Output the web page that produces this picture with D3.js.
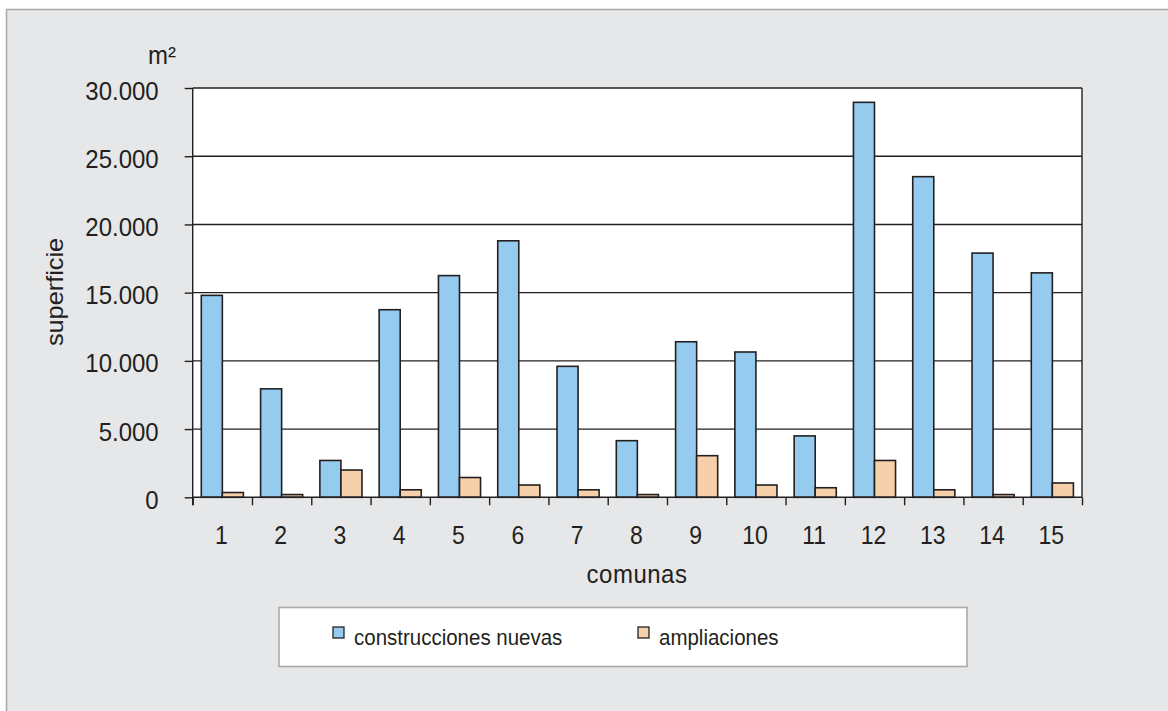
<!DOCTYPE html>
<html>
<head>
<meta charset="utf-8">
<script src="https://cdn.jsdelivr.net/npm/d3@7"></script>
<style>
  body { margin: 0; background: #fff; }
  text { font-family: "Liberation Sans", Arial, sans-serif; fill: #231f20; }
</style>
</head>
<body>
<svg width="1168" height="711"></svg>
<script>
var comunas = ["1", "2", "3", "4", "5", "6", "7", "8", "9", "10", "11", "12", "13", "14", "15"];
var construccionesNuevas = [14800, 7950, 2700, 13750, 16250, 18800, 9600, 4150, 11400, 10650, 4500, 28950, 23500, 17900, 16450];
var ampliaciones = [350, 200, 2000, 550, 1450, 900, 550, 200, 3050, 900, 700, 2700, 550, 200, 1050];
var yTicks = [0, 5000, 10000, 15000, 20000, 25000, 30000];
var yTickLabels = ["0", "5.000", "10.000", "15.000", "20.000", "25.000", "30.000"];
var seriesNames = ["construcciones nuevas", "ampliaciones"];
var seriesColors = ["#95cbee", "#f6d0aa"];

var svg = d3.select("svg");
var ink = "#231f20";
var stretch = 1.1; // text in the original looks a bit taller than wide

// outer panel
svg.append("rect")
    .attr("x", 6.5).attr("y", 9.5)
    .attr("width", 1200).attr("height", 750)
    .attr("fill", "#e6e7e9")
    .attr("stroke", "#a9a9a9")
    .attr("stroke-width", 1.5);

var plotL = 192.7, plotR = 1082, plotT = 88, plotB = 497.3;

var x0 = d3.scaleBand().domain(comunas).range([plotL, plotR]).padding(0);
var groupW = x0.bandwidth() * 0.71;
var x1 = d3.scaleBand().domain(seriesNames)
    .range([(x0.bandwidth() - groupW) / 2, (x0.bandwidth() + groupW) / 2]);
var y = d3.scaleLinear().domain([0, 30000]).range([plotB, plotT]);

// plot background
svg.append("rect")
    .attr("x", plotL).attr("y", plotT)
    .attr("width", plotR - plotL).attr("height", plotB - plotT)
    .attr("fill", "#fff");

// gridlines
svg.append("g").selectAll("line")
    .data(yTicks.slice(1))
    .enter().append("line")
    .attr("x1", plotL).attr("x2", plotR)
    .attr("y1", function (d) { return y(d); })
    .attr("y2", function (d) { return y(d); })
    .attr("stroke", ink).attr("stroke-width", 1.4);

// right border of plot
svg.append("line")
    .attr("x1", plotR).attr("x2", plotR)
    .attr("y1", plotT).attr("y2", plotB)
    .attr("stroke", ink).attr("stroke-width", 1.4);

// bars
var rows = comunas.map(function (c, i) {
    return {c: c, vals: [construccionesNuevas[i], ampliaciones[i]]};
});

var groups = svg.append("g").selectAll("g")
    .data(rows)
    .enter().append("g")
    .attr("transform", function (d) { return "translate(" + x0(d.c) + ",0)"; });

groups.selectAll("rect")
    .data(function (d) {
        return d.vals.map(function (v, k) { return {k: k, v: v}; });
    })
    .enter().append("rect")
    .attr("x", function (d) { return x1(seriesNames[d.k]); })
    .attr("width", x1.bandwidth())
    .attr("y", function (d) { return y(d.v); })
    .attr("height", function (d) { return plotB - y(d.v); })
    .attr("fill", function (d) { return seriesColors[d.k]; })
    .attr("stroke", ink)
    .attr("stroke-width", 1.6);

// y axis
var yAxis = d3.axisLeft(y)
    .tickValues(yTicks)
    .tickSize(8)
    .tickFormat(function (d, i) { return yTickLabels[i]; });

var gy = svg.append("g")
    .attr("transform", "translate(" + plotL + ",0)")
    .call(yAxis);
gy.select(".domain").remove();
gy.selectAll("line").attr("stroke", ink).attr("stroke-width", 1.4);
gy.selectAll("text")
    .attr("x", 0)
    .attr("dy", "0.42em")
    .attr("transform", "translate(-34,0) scale(1," + stretch + ")")
    .style("font-size", "24px")
    .attr("fill", ink);

// y axis line, down to x tick length
svg.append("line")
    .attr("x1", plotL).attr("x2", plotL)
    .attr("y1", plotT).attr("y2", plotB + 8)
    .attr("stroke", ink).attr("stroke-width", 1.4);

// x axis ticks at category boundaries
var xb = d3.scaleLinear().domain([0, comunas.length]).range([plotL, plotR]);
var gx = svg.append("g")
    .attr("transform", "translate(0," + plotB + ")")
    .call(d3.axisBottom(xb).ticks(comunas.length).tickSize(8).tickFormat(""));
gx.select(".domain").remove();
gx.selectAll("line").attr("stroke", ink).attr("stroke-width", 1.4);

svg.append("line")
    .attr("x1", plotL).attr("x2", plotR)
    .attr("y1", plotB).attr("y2", plotB)
    .attr("stroke", ink).attr("stroke-width", 1.4);

svg.append("g").selectAll("text")
    .data(comunas)
    .enter().append("text")
    .attr("transform", function (d) {
        return "translate(" + (x0(d) + x0.bandwidth() / 2 - 1) + ",544) scale(1," + stretch + ")";
    })
    .attr("text-anchor", "middle")
    .style("font-size", "23px")
    .text(function (d) { return d; });

// axis titles
svg.append("text")
    .attr("transform", "translate(637,583) scale(1," + stretch + ")")
    .attr("text-anchor", "middle")
    .attr("letter-spacing", "0.5px")
    .style("font-size", "24px")
    .text("comunas");

svg.append("text")
    .attr("transform", "translate(63,292) rotate(-90) scale(" + stretch + ",1)")
    .attr("text-anchor", "middle")
    .style("font-size", "23px")
    .text("superficie");

svg.append("text")
    .attr("transform", "translate(176,64) scale(1," + stretch + ")")
    .attr("text-anchor", "end")
    .style("font-size", "24px")
    .text("m²");

// legend
var legend = svg.append("g");
legend.append("rect")
    .attr("x", 279).attr("y", 607.5)
    .attr("width", 688).attr("height", 59)
    .attr("fill", "#fff")
    .attr("stroke", "#ababab")
    .attr("stroke-width", 1.6);

var legendX = [333, 638];
var li = legend.selectAll("g")
    .data(seriesNames)
    .enter().append("g")
    .attr("transform", function (d, i) { return "translate(" + legendX[i] + ",627)"; });

li.append("rect")
    .attr("width", 11).attr("height", 11)
    .attr("fill", function (d, i) { return seriesColors[i]; })
    .attr("stroke", ink)
    .attr("stroke-width", 1.3);

li.append("text")
    .attr("transform", "translate(21,18) scale(1," + stretch + ")")
    .style("font-size", "20.5px")
    .text(function (d) { return d; });
</script>
</body>
</html>
